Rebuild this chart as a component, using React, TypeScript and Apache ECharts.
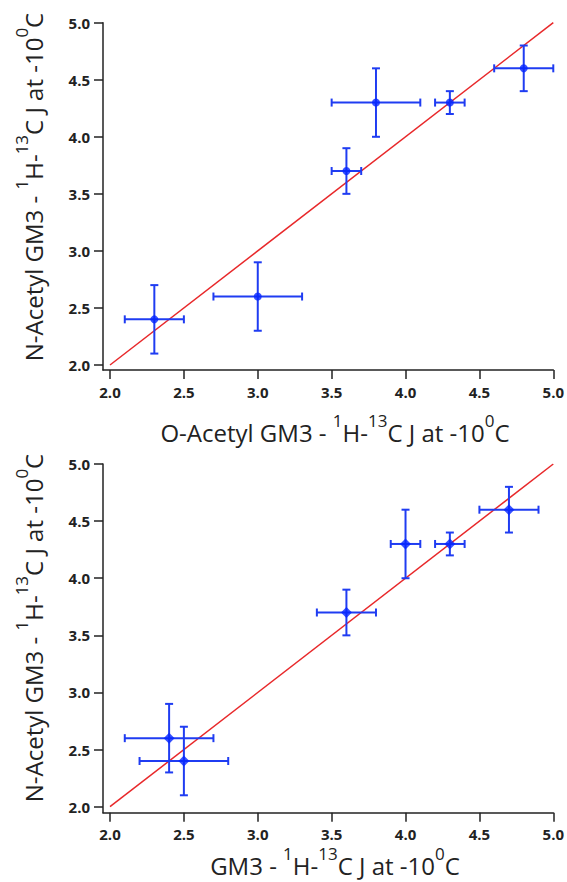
import React, { useEffect, useRef } from 'react';
import * as echarts from 'echarts';

const tickValues = [2.0, 2.5, 3.0, 3.5, 4.0, 4.5, 5.0];

// Top panel: O-Acetyl GM3 (x) vs N-Acetyl GM3 (y)
const topX = [2.3, 3.0, 3.6, 3.8, 4.3, 4.8];
const topY = [2.4, 2.6, 3.7, 4.3, 4.3, 4.6];
const topXErr = [0.2, 0.3, 0.1, 0.3, 0.1, 0.2];
const topYErr = [0.3, 0.3, 0.2, 0.3, 0.1, 0.2];

// Bottom panel: GM3 (x) vs N-Acetyl GM3 (y)
const botX = [2.4, 2.5, 3.6, 4.0, 4.3, 4.7];
const botY = [2.6, 2.4, 3.7, 4.3, 4.3, 4.6];
const botXErr = [0.3, 0.3, 0.2, 0.1, 0.1, 0.2];
const botYErr = [0.3, 0.3, 0.2, 0.3, 0.1, 0.2];

// y = x reference line
const identityLine = [
  [2.0, 2.0],
  [5.0, 5.0],
];

const FONT = '"Open Sans", "DejaVu Sans", sans-serif';
const AXIS_COLOR = '#222';
const BAR_COLOR = '#1f3cf2';
const MARK_COLOR = '#0526ff';
const LINE_COLOR = '#e8282a';

function rows(xs: number[], ys: number[], ex: number[], ey: number[]) {
  return xs.map((x, i) => [x, ys[i], ex[i], ey[i]]);
}

function renderErr(params: any, api: any) {
  const x = api.value(0);
  const y = api.value(1);
  const ex = api.value(2);
  const ey = api.value(3);
  const l = api.coord([x - ex, y]);
  const r = api.coord([x + ex, y]);
  const t = api.coord([x, y + ey]);
  const b = api.coord([x, y - ey]);
  const cap = 4;
  const style = { stroke: BAR_COLOR, lineWidth: 2, fill: null };
  const ln = (x1: number, y1: number, x2: number, y2: number) => ({
    type: 'line',
    shape: { x1, y1, x2, y2 },
    style,
  });
  return {
    type: 'group',
    children: [
      ln(l[0], l[1], r[0], r[1]),
      ln(t[0], t[1], b[0], b[1]),
      ln(l[0], l[1] - cap, l[0], l[1] + cap),
      ln(r[0], r[1] - cap, r[0], r[1] + cap),
      ln(t[0] - cap, t[1], t[0] + cap, t[1]),
      ln(b[0] - cap, b[1], b[0] + cap, b[1]),
    ],
  };
}

const tickLabel = {
  customValues: tickValues,
  formatter: (v: number) => v.toFixed(1),
  fontFamily: FONT,
  fontSize: 15,
  fontWeight: 'bold',
  color: AXIS_COLOR,
};

function makeAxis(gridIndex: number, min: number, margin: number) {
  return {
    type: 'value',
    gridIndex,
    min,
    max: 5,
    axisLine: { show: true, onZero: false, lineStyle: { color: AXIS_COLOR, width: 1.5 } },
    axisTick: {
      show: true,
      length: 9,
      customValues: tickValues,
      lineStyle: { color: AXIS_COLOR, width: 1.5 },
    },
    axisLabel: { ...tickLabel, margin },
    splitLine: { show: false },
  };
}

const rich = {
  a: { fontFamily: FONT, fontSize: 24, lineHeight: 40, color: AXIS_COLOR },
  s: { fontFamily: FONT, fontSize: 17, lineHeight: 17, verticalAlign: 'top', color: AXIS_COLOR },
};

const unitText = '{s|1}{a|H-}{s|13}{a|C J at -10}{s|0}{a|C}';

function title(text: string, x: number, y: number, rotated: boolean) {
  return {
    type: 'text',
    x,
    y,
    rotation: rotated ? Math.PI / 2 : 0,
    style: {
      text,
      rich,
      align: 'center',
      verticalAlign: 'middle',
      fontFamily: FONT,
      fontSize: 24,
      fill: AXIS_COLOR,
    },
  };
}

export default function App() {
  const ref = useRef<HTMLDivElement>(null);
  useEffect(() => {
    if (!ref.current) return;
    const chart = echarts.init(ref.current, undefined, { renderer: 'svg' });
    const option: any = {
      animation: false,
      backgroundColor: '#ffffff',
      grid: [
        { left: 103, top: 22.7, width: 450.3, height: 347.3 },
        { left: 103, top: 464, width: 450.3, height: 348.7 },
      ],
      xAxis: [makeAxis(0, 1.9526, 14), makeAxis(1, 1.9526, 14)],
      yAxis: [makeAxis(0, 1.956, 13), makeAxis(1, 1.9475, 13)],
      series: [
        {
          type: 'line',
          xAxisIndex: 0,
          yAxisIndex: 0,
          data: identityLine,
          showSymbol: false,
          lineStyle: { color: LINE_COLOR, width: 1.5 },
          z: 1,
        },
        {
          type: 'custom',
          xAxisIndex: 0,
          yAxisIndex: 0,
          renderItem: renderErr,
          data: rows(topX, topY, topXErr, topYErr),
          encode: { x: 0, y: 1 },
          z: 2,
        },
        {
          type: 'scatter',
          xAxisIndex: 0,
          yAxisIndex: 0,
          symbol: 'circle',
          symbolSize: 8,
          itemStyle: { color: MARK_COLOR },
          data: topX.map((x, i) => [x, topY[i]]),
          z: 3,
        },
        {
          type: 'line',
          xAxisIndex: 1,
          yAxisIndex: 1,
          data: identityLine,
          showSymbol: false,
          lineStyle: { color: LINE_COLOR, width: 1.5 },
          z: 1,
        },
        {
          type: 'custom',
          xAxisIndex: 1,
          yAxisIndex: 1,
          renderItem: renderErr,
          data: rows(botX, botY, botXErr, botYErr),
          encode: { x: 0, y: 1 },
          z: 2,
        },
        {
          type: 'scatter',
          xAxisIndex: 1,
          yAxisIndex: 1,
          symbol: 'diamond',
          symbolSize: 11,
          itemStyle: { color: MARK_COLOR },
          data: botX.map((x, i) => [x, botY[i]]),
          z: 3,
        },
      ],
      graphic: [
        title('{a|O-Acetyl GM3 - }' + unitText, 335, 432, false),
        title('{a|N-Acetyl GM3 - }' + unitText, 33, 187, true),
        title('{a|GM3 - }' + unitText, 335, 865, false),
        title('{a|N-Acetyl GM3 - }' + unitText, 33, 628, true),
      ],
    };
    chart.setOption(option);
    return () => chart.dispose();
  }, []);
  return (
    <div
      ref={ref}
      style={{ position: 'absolute', left: 0, top: 0, width: 567, height: 882 }}
    />
  );
}
